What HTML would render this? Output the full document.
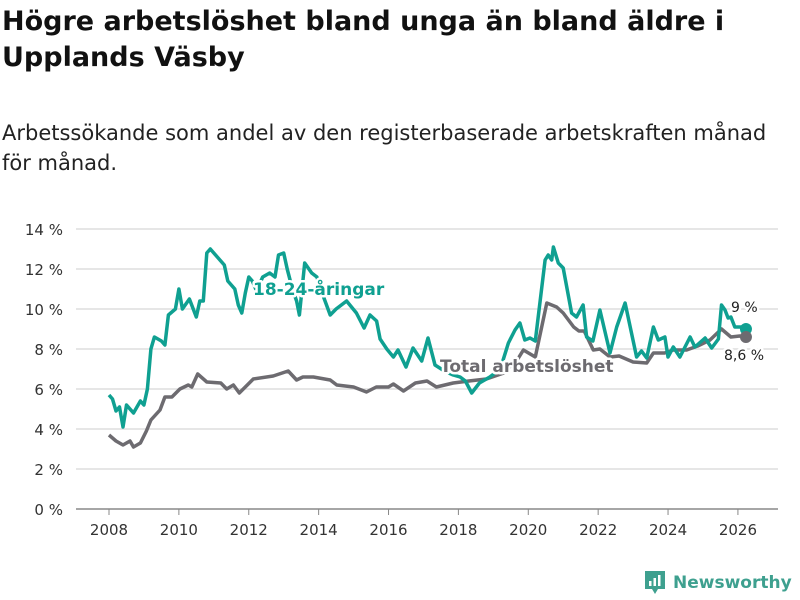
<!DOCTYPE html>
<html><head><meta charset="utf-8"><style>
body{margin:0;background:#fff;width:800px;height:600px;overflow:hidden;font-family:"DejaVu Sans","Liberation Sans",sans-serif;}
h1{position:absolute;left:2px;top:4px;margin:0;font-size:27px;line-height:36px;font-weight:bold;color:#111;white-space:nowrap}
.sub{position:absolute;left:2px;top:118px;font-size:21px;line-height:30px;color:#222;white-space:nowrap}
svg{position:absolute;left:0;top:0}
</style></head><body>
<h1>Högre arbetslöshet bland unga än bland äldre i<br>Upplands Väsby</h1>
<div class="sub">Arbetssökande som andel av den registerbaserade arbetskraften månad<br>för månad.</div>
<svg id="c" width="800" height="600"></svg>
<script>
const yTicks=[0,2,4,6,8,10,12,14];
const xTicks=[2008,2010,2012,2014,2016,2018,2020,2022,2024,2026];
const youthYears=[2008.0,2008.1,2008.2,2008.3,2008.4,2008.5,2008.7,2008.9,2009.0,2009.1,2009.2,2009.3,2009.5,2009.6,2009.7,2009.9,2010.0,2010.1,2010.3,2010.5,2010.6,2010.7,2010.8,2010.9,2011.1,2011.3,2011.4,2011.6,2011.7,2011.8,2011.9,2012.0,2012.1,2012.2,2012.3,2012.4,2012.6,2012.75,2012.85,2013.0,2013.1,2013.25,2013.37,2013.45,2013.6,2013.8,2013.95,2014.1,2014.33,2014.5,2014.8,2015.08,2015.3,2015.47,2015.66,2015.76,2015.95,2016.14,2016.27,2016.5,2016.7,2016.95,2017.13,2017.33,2017.6,2017.85,2018.05,2018.2,2018.38,2018.6,2018.9,2019.2,2019.43,2019.62,2019.76,2019.9,2020.05,2020.2,2020.48,2020.57,2020.67,2020.72,2020.86,2021.0,2021.24,2021.38,2021.57,2021.67,2021.85,2022.05,2022.34,2022.53,2022.77,2023.1,2023.24,2023.39,2023.58,2023.72,2023.91,2024.0,2024.15,2024.34,2024.63,2024.77,2025.06,2025.25,2025.44,2025.53,2025.63,2025.72,2025.8,2025.91,2026.1,2026.23];
const youthVals=[5.7,5.5,4.9,5.1,4.1,5.2,4.8,5.4,5.2,6.0,8.0,8.6,8.4,8.2,9.7,10.0,11.0,10.0,10.5,9.6,10.4,10.4,12.8,13.0,12.6,12.2,11.4,11.0,10.2,9.8,10.8,11.6,11.4,11.0,11.2,11.6,11.8,11.6,12.7,12.8,12.0,11.0,10.4,9.7,12.3,11.8,11.6,10.8,9.7,10.0,10.4,9.8,9.05,9.7,9.4,8.5,8.0,7.6,7.95,7.1,8.05,7.4,8.55,7.2,6.9,6.7,6.6,6.4,5.8,6.3,6.6,7.0,8.3,8.95,9.3,8.45,8.55,8.4,12.45,12.7,12.45,13.1,12.3,12.05,9.8,9.6,10.2,8.6,8.4,9.95,7.8,9.1,10.3,7.6,7.9,7.55,9.1,8.45,8.6,7.6,8.1,7.6,8.6,8.1,8.55,8.05,8.5,10.2,9.95,9.55,9.6,9.1,9.1,9.0];
const totalYears=[2008.0,2008.2,2008.4,2008.6,2008.7,2008.9,2009.07,2009.2,2009.46,2009.6,2009.8,2010.03,2010.27,2010.37,2010.54,2010.8,2011.2,2011.37,2011.56,2011.73,2012.13,2012.7,2013.13,2013.37,2013.55,2013.85,2014.33,2014.52,2015.0,2015.37,2015.65,2016.0,2016.14,2016.43,2016.77,2017.1,2017.37,2017.85,2018.3,2018.8,2019.3,2019.7,2019.86,2020.2,2020.53,2020.81,2021.0,2021.3,2021.45,2021.6,2021.86,2022.05,2022.34,2022.6,2023.0,2023.39,2023.58,2023.9,2024.15,2024.53,2024.85,2025.2,2025.53,2025.8,2026.05,2026.23];
const totalVals=[3.7,3.4,3.2,3.4,3.1,3.3,3.9,4.45,4.95,5.6,5.6,6.0,6.2,6.1,6.75,6.35,6.3,6.0,6.2,5.8,6.5,6.65,6.9,6.45,6.6,6.6,6.45,6.2,6.1,5.85,6.1,6.1,6.25,5.9,6.3,6.4,6.1,6.3,6.4,6.5,6.8,7.5,7.95,7.6,10.3,10.1,9.8,9.1,8.9,8.9,7.95,8.0,7.6,7.65,7.35,7.3,7.8,7.8,7.95,7.95,8.15,8.45,9.0,8.6,8.65,8.6];
const NS="http://www.w3.org/2000/svg";
const svg=document.getElementById('c');
const X=y=>109+(y-2008)*34.94;
const Y=v=>509-v*20;
function mk(t,a,p){const e=document.createElementNS(NS,t);for(const k in a)e.setAttribute(k,a[k]);(p||svg).appendChild(e);return e;}
yTicks.forEach(v=>{
 const l=mk('line',{x1:76,x2:778,y1:Y(v),y2:Y(v),stroke:v==0?'#888':'#ddd','stroke-width':1.5});
 
 
 const t=mk('text',{x:63,y:Y(v)+6,'text-anchor':'end','font-size':15,fill:'#333'});
 t.textContent=v+' %';
 
 
});
xTicks.forEach(yr=>{
 const l=mk('line',{x1:X(yr),x2:X(yr),y1:509,y2:515,stroke:'#888'});
 
 
 const t=mk('text',{x:X(yr),y:535,'text-anchor':'middle','font-size':15,fill:'#333'});
 t.textContent=yr;
 
 
});
function pathOf(xs,vs){return xs.map((x,i)=>(i?'L':'M')+X(x).toFixed(1)+','+Y(vs[i]).toFixed(1)).join('');}
const pt=mk('path',{d:pathOf(totalYears,totalVals),fill:'none',stroke:'#6d6b70','stroke-width':3.5,'stroke-linejoin':'round'});


const py=mk('path',{d:pathOf(youthYears,youthVals),fill:'none',stroke:'#0fa091','stroke-width':3.5,'stroke-linejoin':'round'});


const ly=youthYears.length-1,lt=totalYears.length-1;
const dy=mk('circle',{cx:X(youthYears[ly]),cy:Y(youthVals[ly]),r:6,fill:'#0fa091'});


const dt=mk('circle',{cx:X(totalYears[lt]),cy:Y(totalVals[lt]),r:6,fill:'#6d6b70'});


function lab(txt,x,y,col,name,sz,bold){const t=mk('text',{x:x,y:y,'font-size':sz,'font-weight':bold?'bold':'normal',fill:col,stroke:'#fff','stroke-width':5,'paint-order':'stroke','stroke-linejoin':'round'});t.textContent=txt;
 
 }
lab('18-24-åringar',253,295,'#0fa091','youth-series-label',17,true);
lab('Total arbetslöshet',440,372,'#6d6b70','total-series-label',17,true);
lab(youthVals[ly].toString().replace('.',',')+' %',731,312,'#222','youth-end-value',14,false);
lab(totalVals[lt].toString().replace('.',',')+' %',724,360,'#222','total-end-value',14,false);
</script>
<div style="position:absolute;left:644px;top:570px;height:26px;display:flex;align-items:center">
<svg width="22" height="26" style="position:static" viewBox="0 0 22 26"><path d="M1 1h20v18h-7l-3 5-3-5H1z" fill="#3ea08f"/><rect x="5" y="11" width="2.5" height="5" fill="#fff"/><rect x="9.5" y="8" width="2.5" height="8" fill="#fff"/><rect x="14" y="5" width="2.5" height="11" fill="#fff"/></svg>
<span style="margin-left:7px;font-size:17px;color:#3ea08f;font-weight:bold">Newsworthy</span></div>
</body></html>
